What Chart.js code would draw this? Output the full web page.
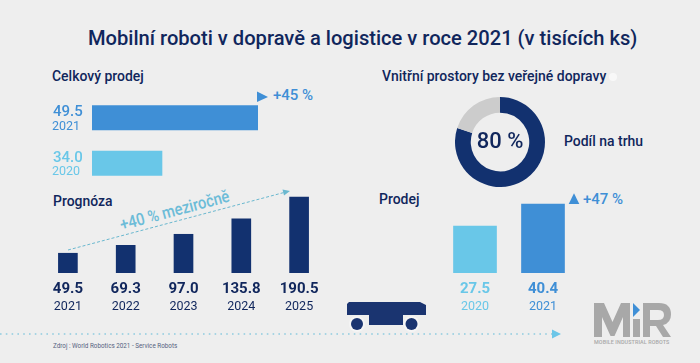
<!DOCTYPE html>
<html><head><meta charset="utf-8">
<style>
html,body{margin:0;padding:0;background:#eeeeee;width:700px;height:363px;overflow:hidden}
body{position:relative;font-family:Roboto,sans-serif}
canvas{position:absolute;display:block}
.t{position:absolute;white-space:nowrap;line-height:1;color:#10265c}
.h{font-size:15px;font-weight:500;transform:scaleX(.93);transform-origin:left center}
svg{position:absolute;left:0;top:0}
</style>
<script src="https://cdn.jsdelivr.net/npm/chart.js@4"></script>
</head><body>
<svg width="700" height="363">
  <line x1="0" y1="334" x2="552" y2="334" stroke="#8fcbdf" stroke-width="1.6" stroke-dasharray="1.6 4.2"/>
  <polygon points="552,329.5 561,334 552,338.5" fill="#6cc6e8"/>
  <line x1="68" y1="250" x2="284" y2="192.5" stroke="#6ab8cf" stroke-width="1" stroke-dasharray="3 2"/>
  <polygon points="290,191 282.5,189.5 284,195.5" fill="#6ab8cf"/>
  <polygon points="257,91.5 268,97 257,102" fill="#3f8fd6"/>
  <polygon points="568.7,204 574,193.3 579.3,204" fill="#3f8fd6"/>
  <ellipse cx="613" cy="77" rx="4" ry="4" fill="#ffffff" opacity=".6"/>
  <path d="M349,302 H420 L426,305 V315 H403 V325 H369 V315 H347 V304 Z" fill="#1a3470"/>
  <circle cx="357" cy="324" r="8" fill="#f5f5f5"/>
  <circle cx="411.5" cy="324" r="8" fill="#f5f5f5"/>
  <circle cx="357" cy="324" r="6" fill="#1a3470"/>
  <circle cx="411.5" cy="324" r="6" fill="#1a3470"/>
  <g fill="#a8a8a8">
    <polygon points="594,303 604,303 612.5,322 621,303 630,303 630,337 623,337 623,317 614.5,336 610.5,336 602,317 602,337 594,337"/>
    <rect x="633" y="319" width="7" height="18"/>
    <path d="M643,303 H659 Q671,303 671,314.5 Q671,323 663,325 L671,337 H663 L656,326 H650 V337 H643 Z M650,310 V320 H658 Q664,320 664,315 Q664,310 658,310 Z" fill-rule="evenodd"/>
  </g>
  <polygon points="633,303 640,310 633,317" fill="#3f8fd6"/>
</svg>
<div class="t" style="left:88px;top:28px;font-size:21px;font-weight:500;transform:scaleX(.958);transform-origin:left center">Mobilní roboti v dopravě a logistice v roce 2021 (v tisících ks)</div>
<div class="t h" style="left:52px;top:69px">Celkový prodej</div>
<div class="t h" style="left:382px;top:69px">Vnitřní prostory bez veřejné dopravy</div>
<div class="t h" style="left:564px;top:134px">Podíl na trhu</div>
<div class="t h" style="left:53px;top:194px">Prognóza</div>
<div class="t h" style="left:379px;top:192px">Prodej</div>
<div class="t" style="left:273px;top:88px;font-size:15px;font-weight:500;color:#3f8fd6">+45 %</div>
<div class="t" style="left:583px;top:192px;font-size:15px;font-weight:500;color:#3f8fd6">+47 %</div>
<div class="t" style="left:110px;top:202px;font-size:17px;font-weight:500;color:#6cbcd8;transform:rotate(-15deg) scaleX(.87);transform-origin:center">+40 % meziročně</div>
<div class="t" style="left:53px;top:343px;font-size:6.3px;color:#55627f">Zdroj : World Robotics 2021 - Service Robots</div>
<div class="t" style="left:594px;top:340px;font-size:5.4px;font-weight:500;color:#a8a8a8;letter-spacing:.1px">MOBILE INDUSTRIAL ROBOTS</div>
<canvas id="c1" width="206" height="127" style="left:52px;top:77px"></canvas>
<canvas id="c2" width="90" height="90" style="left:455px;top:97px"></canvas>
<canvas id="c3" width="289" height="133" style="left:39px;top:190px"></canvas>
<canvas id="c4" width="136" height="133" style="left:441px;top:190px"></canvas>
<script>
const totalYears=['2021','2020'];
const totalValues=[49.5,34.0];
const shareLabels=['Podíl na trhu','Ostatní'];
const shareValues=[80,20];
const forecastYears=['2021','2022','2023','2024','2025'];
const forecastValues=[49.5,69.3,97.0,135.8,190.5];
const salesYears=['2020','2021'];
const salesValues=[27.5,40.4];

const NAVY='#12316f',BLUE='#3f8fd6',LIGHT='#69c7e8',GREY='#cccccc',INK='#10265c';
const FONT='Roboto, sans-serif';
Chart.defaults.animation=false;
Chart.defaults.responsive=false;
Chart.defaults.maintainAspectRatio=false;
Chart.defaults.plugins.legend.display=false;
Chart.defaults.plugins.tooltip.enabled=false;

const valueLabels=(colors,size,weight)=>({id:'valueLabels',afterDraw(chart){
  const ctx=chart.ctx,meta=chart.getDatasetMeta(0),horizontal=chart.options.indexAxis==='y';
  ctx.save();ctx.font=`${weight} ${size}px ${FONT}`;ctx.textBaseline='middle';
  meta.data.forEach((el,i)=>{
    const v=chart.data.datasets[0].data[i].toFixed(1);
    ctx.fillStyle=colors[i];
    if(horizontal){ctx.textAlign='left';ctx.fillText(v,1,el.y-5.5);}
    else{ctx.textAlign='center';ctx.fillText(v,el.x,chart.scales.y.bottom+16);}
  });
  ctx.restore();
}});
const hiddenY={display:false,grid:{display:false},border:{display:false}};

new Chart('c1',{type:'bar',
  data:{labels:totalYears.map(y=>['',y]),datasets:[{data:totalValues,backgroundColor:[BLUE,LIGHT],barThickness:24.5}]},
  options:{indexAxis:'y',layout:{padding:0},scales:{
    x:{display:false,min:22.7,max:49.5},
    y:{afterFit:s=>{s.width=40},grid:{display:false},border:{display:false},
       ticks:{crossAlign:'far',padding:0,font:{family:FONT,size:12.5,lineHeight:'18px'},color:c=>[BLUE,LIGHT][c.index]}}
  }},
  plugins:[valueLabels([BLUE,LIGHT],15,500)]});

new Chart('c2',{type:'doughnut',
  data:{labels:shareLabels,datasets:[{data:shareValues,backgroundColor:[NAVY,GREY],borderWidth:0}]},
  options:{cutout:'65%',layout:{padding:0}},
  plugins:[{id:'centre',afterDraw(chart){
    const m=chart.getDatasetMeta(0).data[0],ctx=chart.ctx;
    ctx.save();ctx.font=`500 22px ${FONT}`;ctx.fillStyle=INK;ctx.textAlign='center';ctx.textBaseline='middle';
    ctx.fillText(shareValues[0]+' %',m.x,m.y);ctx.restore();
  }}]});

const xAxis=colors=>({afterFit:s=>{s.height=50},grid:{display:false},border:{display:false},
  ticks:{padding:0,autoSkip:false,maxRotation:0,font:{family:FONT,size:12.5,lineHeight:'17px'},color:c=>colors[c.index]}});

new Chart('c3',{type:'bar',
  data:{labels:forecastYears.map(y=>['',y]),datasets:[{data:forecastValues,backgroundColor:NAVY,barThickness:19}]},
  options:{layout:{padding:0},scales:{x:xAxis(forecastYears.map(()=>INK)),y:{...hiddenY,min:0,max:208}}},
  plugins:[valueLabels(forecastYears.map(()=>INK),15,700)]});

new Chart('c4',{type:'bar',
  data:{labels:salesYears.map(y=>['',y]),datasets:[{data:salesValues,backgroundColor:[LIGHT,BLUE],barThickness:43}]},
  options:{layout:{padding:0},scales:{x:xAxis([LIGHT,BLUE]),y:{...hiddenY,min:0,max:48.6}}},
  plugins:[valueLabels([LIGHT,BLUE],15,700)]});
</script>
</body></html>
